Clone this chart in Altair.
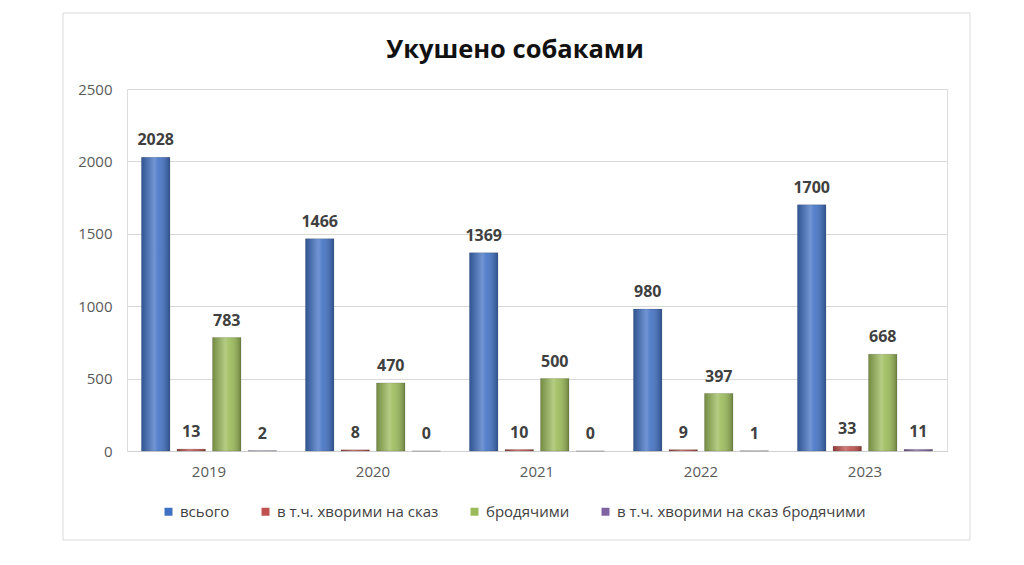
import altair as alt
import pandas as pd

years = ["2019", "2020", "2021", "2022", "2023"]
series = ["всього", "в т.ч. хворими на сказ", "бродячими", "в т.ч. хворими на сказ бродячими"]
total = [2028, 1466, 1369, 980, 1700]
rabid = [13, 8, 10, 9, 33]
stray = [783, 470, 500, 397, 668]
rabid_stray = [2, 0, 0, 1, 11]
colors = ["#4171C4", "#C0504D", "#9BBB59", "#8064A2"]
title_text = "Укушено собаками"

rows = []
for i, y in enumerate(years):
    for s, vals in zip(series, [total, rabid, stray, rabid_stray]):
        rows.append({"year": y, "series": s, "value": vals[i]})
df = pd.DataFrame(rows)

FONT = "Open Sans"

x = alt.X("year:N", title=None, sort=years,
          scale=alt.Scale(paddingInner=0.177, paddingOuter=0.0885),
          axis=alt.Axis(labelAngle=0, ticks=False, domainColor="#d0d0d0", labelPadding=13,
                        labelFontSize=15, labelColor="#595959", labelFont=FONT, grid=False))
xo = alt.XOffset("series:N", sort=series, scale=alt.Scale(paddingInner=0.2, paddingOuter=0))
y = alt.Y("value:Q", title=None,
          scale=alt.Scale(domain=[0, 2500]),
          axis=alt.Axis(values=[0, 500, 1000, 1500, 2000, 2500], format="d", domain=False, ticks=False,
                        gridColor="#d9d9d9", labelPadding=15, labelFontSize=15,
                        labelColor="#595959", labelFont=FONT))

base = alt.Chart(df)

bars = base.mark_bar(strokeWidth=0.8, stroke="#00000030").encode(
    x=x, xOffset=xo, y=y,
    color=alt.Color("series:N", sort=series, scale=alt.Scale(domain=series, range=colors),
                    legend=alt.Legend(title=None, orient="none", direction="horizontal",
                                      legendX=34, legendY=415, columns=4, columnPadding=28,
                                      symbolType="square", symbolSize=64, symbolStrokeWidth=0,
                                      labelLimit=0, labelFontSize=15, labelColor="#404040",
                                      labelFont=FONT)),
)

shine = base.mark_bar(
    color=alt.Gradient(
        gradient="linear", x1=0, x2=1, y1=0, y2=0,
        stops=[alt.GradientStop(offset=0, color="rgba(0,0,0,0.25)"),
               alt.GradientStop(offset=0.45, color="rgba(255,255,255,0.25)"),
               alt.GradientStop(offset=0.6, color="rgba(255,255,255,0.1)"),
               alt.GradientStop(offset=1, color="rgba(0,0,0,0.3)")])
).encode(x=x, xOffset=xo, y=y)

labels = base.mark_text(baseline="alphabetic", dy=-12, fontSize=16, fontWeight="bold",
                        color="#404040", font=FONT).encode(
    x=x, xOffset=xo, y=y, text=alt.Text("value:Q"))

one = pd.DataFrame({"t": [title_text]})

border = alt.Chart(one).mark_rect(fill=None, stroke="#d9d9d9", strokeWidth=1).encode(
    x=alt.value(-64), x2=alt.value(843), y=alt.value(-76), y2=alt.value(451))

title = alt.Chart(one).mark_text(fontSize=25.5, font=FONT, fontWeight="bold", color="#111111",
                                 align="center", baseline="alphabetic").encode(
    x=alt.value(388), y=alt.value(-31), text="t:N")

chart = alt.layer(border, bars, shine, labels, title).properties(
    width=820, height=362,
    autosize=alt.AutoSizeParams(type="none"),
    padding={"left": 127, "top": 89, "right": 77, "bottom": 114},
).configure_view(stroke=None).configure(background="white")

chart.save("out.html", embed_options={"renderer": "svg", "actions": False})
